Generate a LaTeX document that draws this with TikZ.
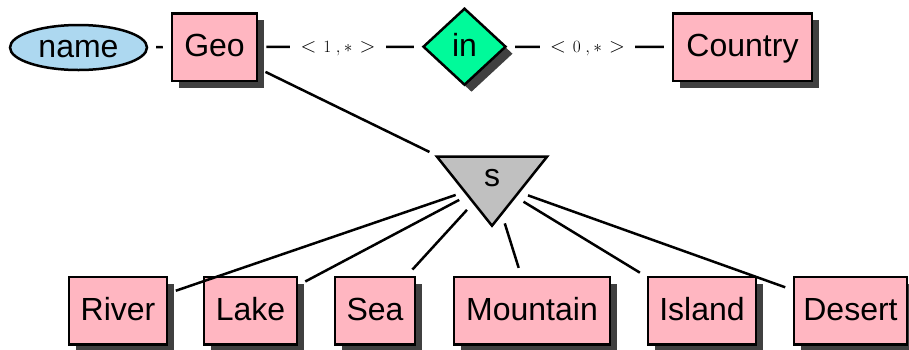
\documentclass[tikz,border=0pt]{standalone}
\usepackage[no-math]{fontspec}
\setmainfont{Liberation Sans}
\usetikzlibrary{shapes.geometric,shadows}
\definecolor{entpink}{RGB}{255,182,193}
\definecolor{attblue}{RGB}{173,216,240}
\definecolor{relgreen}{RGB}{0,250,154}
\definecolor{isagray}{RGB}{192,192,192}
\definecolor{shadowgray}{RGB}{64,64,64}
\newcommand{\cardtext}[1]{\fontsize{21}{25}\selectfont$<$\hspace{7pt}{\fontsize{19}{23}\selectfont$#1$\hspace{4.6pt}$,$\hspace{3.3pt}$*$}\hspace{7.2pt}$>$}
\begin{document}
\begin{tikzpicture}[x=1pt,y=-1pt,
  font=\fontsize{32}{38}\selectfont,
  base/.style={draw=black, line width=2.5pt, text height=23pt, text depth=4pt, inner sep=0pt},
  shadowed/.style={drop shadow={shadow xshift=7pt, shadow yshift=-7pt, fill=shadowgray, opacity=1}},
  entity/.style={base, rectangle, fill=entpink, minimum height=67.5pt, shadowed},
  attr/.style={base, ellipse, fill=attblue},
  rel/.style={base, diamond, fill=relgreen, shadowed},
  isa/.style={base, isosceles triangle, isosceles triangle stretches, shape border rotate=270, fill=isagray},
  conn/.style={draw=black, line width=2.5pt, shorten <=8pt, shorten >=8pt},
  card/.style={fill=white, inner xsep=10.5pt, inner ysep=2pt, text height=12pt, text depth=0.4pt, xshift=-2pt}
]
\useasboundingbox (0,0) rectangle (909,349);
% top row
\node[attr, minimum width=137pt, minimum height=45pt] (name) at (78.5,47.5) {name};
\node[entity, minimum width=85pt] (geo) at (214.5,47) {Geo};
\node[rel, minimum width=83pt, minimum height=77pt] (in) at (464.5,46.7) {in};
\node[entity, minimum width=139pt] (country) at (742.5,47) {Country};
% isa
\node[isa, minimum width=110pt, minimum height=69pt] (s) at (492,182.5) {\raisebox{6pt}{s}};
% bottom row
\node[entity, minimum width=98pt] (river) at (118,310.5) {River};
\node[entity, minimum width=93pt] (lake) at (250.5,310.5) {Lake};
\node[entity, minimum width=80pt] (sea) at (375,310.5) {Sea};
\node[entity, minimum width=156pt] (mountain) at (532,310.5) {Mountain};
\node[entity, minimum width=108pt] (island) at (702,310.5) {Island};
\node[entity, minimum width=113pt] (desert) at (850.5,310.5) {Desert};
% connectors
\draw[conn] (name) -- (geo);
\draw[conn] (geo) -- node[card] (c1) {\cardtext{1}} (in);
\draw[conn] (in) -- node[card] (c2) {\cardtext{0}} (country);
\draw[conn] (geo) -- (s);
\foreach \t in {river,lake,sea,mountain,island,desert}
  \draw[conn] (s) -- (\t);
\end{tikzpicture}
\end{document}
